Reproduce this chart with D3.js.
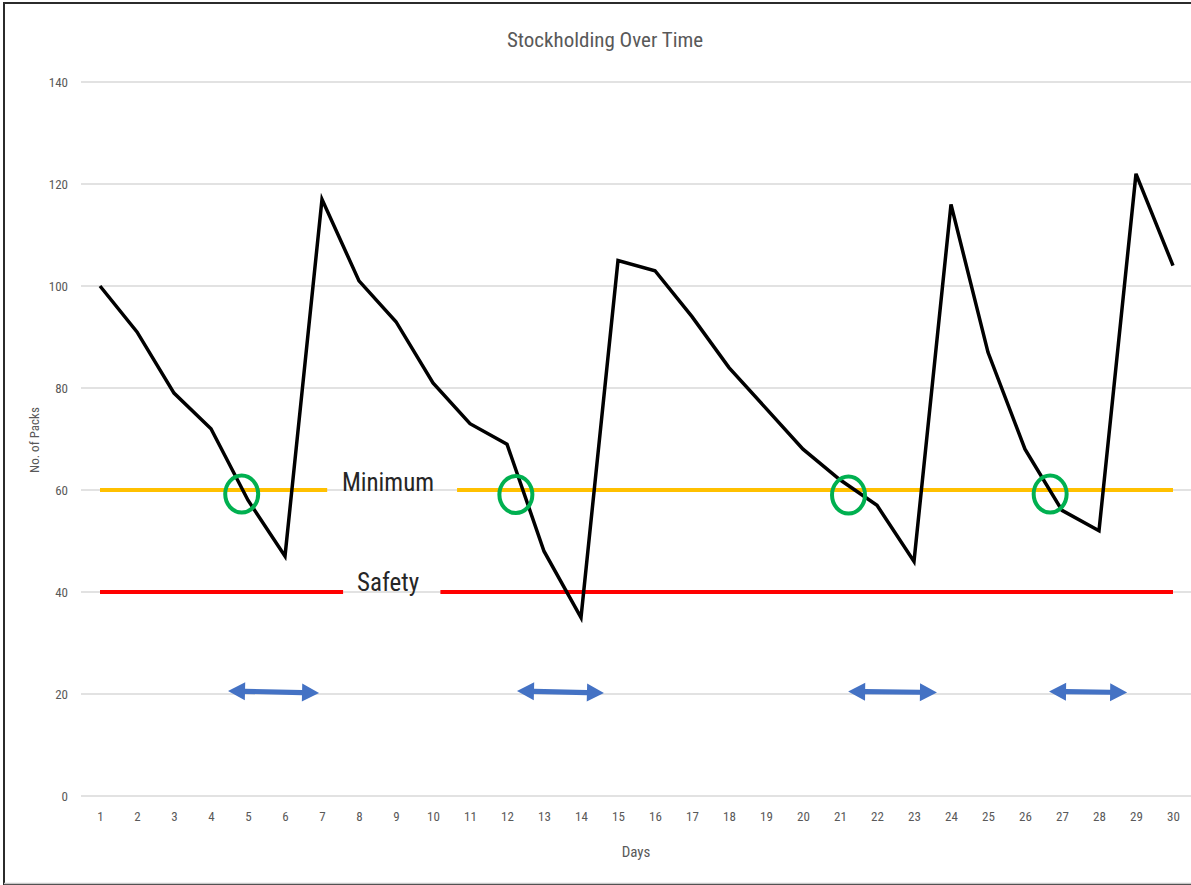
<!DOCTYPE html>
<html>
<head>
<meta charset="utf-8">
<script src="https://cdn.jsdelivr.net/npm/d3@7"></script>
<style>
  html, body { margin: 0; padding: 0; background: #fff; }
  svg { display: block; }
  text { font-family: "Liberation Sans Narrow", "Roboto Condensed", "Arial Narrow", sans-serif; }
</style>
</head>
<body>
<svg id="chart" width="1191" height="885"></svg>
<script>
// Daily stock on hand (packs)
const days = d3.range(1, 31);
const stock = [100, 91, 79, 72, 58, 47, 117, 101, 93, 81,
               73, 69, 48, 35, 105, 103, 94, 84, 76, 68,
               62, 57, 46, 116, 87, 68, 56, 52, 122, 104];
const yTicks = [0, 20, 40, 60, 80, 100, 120, 140];

// Reference levels, each drawn as segments (in day units) leaving room for the label
const minimumLevel = 60;
const minimumSegments = [[1, 7.14], [10.65, 30]];
const safetyLevel = 40;
const safetySegments = [[1, 7.57], [10.2, 30]];

// Points where stock drops through the minimum level
const reorderPoints = [[4.83, 59.2], [12.24, 59.1], [21.23, 59.0], [26.68, 59.2]];
// Lead-time spans: [fromDay, toDay, value at start, value at end]
const leadTimes = [[4.46, 6.92, 20.6, 20.2], [12.27, 14.62, 20.6, 20.2],
                   [21.22, 23.62, 20.5, 20.3], [26.65, 28.76, 20.5, 20.3]];

const svg = d3.select("#chart");
const W = 1191, H = 885;

// outer frame
svg.append("rect").attr("x", 4).attr("y", 3).attr("width", W + 10).attr("height", H - 4)
  .attr("fill", "none").attr("stroke", "#2b2b2b").attr("stroke-width", 2);
svg.append("line").attr("x1", 4).attr("x2", W).attr("y1", 883.5).attr("y2", 883.5)
  .attr("stroke", "#c8c8c8").attr("stroke-width", 1.5);

const x = d3.scalePoint().domain(days).range([81.5, 1191.5]).padding(0.5);
const step = x.step();
const xd = d => x(1) + (d - 1) * step;   // continuous day position
const y = d3.scaleLinear().domain([0, 140]).range([796, 82]);

// gridlines
svg.append("g").selectAll("line").data(yTicks).join("line")
  .attr("x1", 81).attr("x2", W + 2)
  .attr("y1", d => y(d)).attr("y2", d => y(d))
  .attr("stroke", "#d9d9d9").attr("stroke-width", 1.5);

// y axis labels
const yAxis = d3.axisLeft(y).tickValues(yTicks).tickSize(0).tickPadding(0);
const gy = svg.append("g").attr("transform", "translate(68,0)").call(yAxis);
gy.select(".domain").remove();
gy.selectAll("text").attr("fill", "#595959").attr("font-size", 13)
  .style("font-family", "'Liberation Sans Narrow', 'Roboto Condensed', sans-serif");

// x axis labels
const xAxis = d3.axisBottom(x).tickSize(0).tickPadding(0);
const gx = svg.append("g").attr("transform", "translate(0,812)").call(xAxis);
gx.select(".domain").remove();
gx.selectAll("text").attr("fill", "#595959").attr("font-size", 13)
  .style("font-family", "'Liberation Sans Narrow', 'Roboto Condensed', sans-serif");

// titles
svg.append("text").attr("x", 605).attr("y", 47).attr("text-anchor", "middle")
  .attr("fill", "#595959").attr("font-size", 21).text("Stockholding Over Time");
svg.append("text").attr("x", 636).attr("y", 857).attr("text-anchor", "middle")
  .attr("fill", "#595959").attr("font-size", 15).text("Days");
svg.append("text").attr("transform", "translate(39,440) rotate(-90)").attr("text-anchor", "middle")
  .attr("fill", "#595959").attr("font-size", 13).text("No. of Packs");

// reference levels
svg.append("g").selectAll("line").data(minimumSegments).join("line")
  .attr("x1", d => xd(d[0])).attr("x2", d => xd(d[1]))
  .attr("y1", y(minimumLevel)).attr("y2", y(minimumLevel))
  .attr("stroke", "#FFC000").attr("stroke-width", 4);
svg.append("g").selectAll("line").data(safetySegments).join("line")
  .attr("x1", d => xd(d[0])).attr("x2", d => xd(d[1]))
  .attr("y1", y(safetyLevel)).attr("y2", y(safetyLevel))
  .attr("stroke", "#FF0000").attr("stroke-width", 4);

svg.append("text").attr("x", 388).attr("y", y(minimumLevel) + 1).attr("text-anchor", "middle")
  .attr("fill", "#262626").attr("font-size", 25).text("Minimum");
svg.append("text").attr("x", 388).attr("y", y(safetyLevel) - 1).attr("text-anchor", "middle")
  .attr("fill", "#262626").attr("font-size", 25).text("Safety");

// stock line
const line = d3.line().x((d, i) => x(days[i])).y(d => y(d));
svg.append("path").datum(stock).attr("d", line)
  .attr("fill", "none").attr("stroke", "#000").attr("stroke-width", 3.5)
  .attr("stroke-linejoin", "miter");

// reorder markers
svg.append("g").selectAll("ellipse").data(reorderPoints).join("ellipse")
  .attr("cx", d => xd(d[0])).attr("cy", d => y(d[1]))
  .attr("rx", 16.5).attr("ry", 18.5)
  .attr("fill", "none").attr("stroke", "#00B050").attr("stroke-width", 4);

// lead-time arrows
const arrowG = svg.append("g");
leadTimes.forEach(d => {
  const x1 = xd(d[0]), x2 = xd(d[1]), y1 = y(d[2]), y2 = y(d[3]);
  const ang = Math.atan2(y2 - y1, x2 - x1);
  const len = Math.hypot(x2 - x1, y2 - y1);
  const head = 17, hw = 9, sw = 2.6;
  const pts = [[0, 0], [head, -hw], [head, -sw], [len - head, -sw], [len - head, -hw],
               [len, 0], [len - head, hw], [len - head, sw], [head, sw], [head, hw]];
  arrowG.append("polygon")
    .attr("points", pts.map(p => p.join(",")).join(" "))
    .attr("transform", `translate(${x1},${y1}) rotate(${ang * 180 / Math.PI})`)
    .attr("fill", "#4472C4");
});
</script>
</body>
</html>
